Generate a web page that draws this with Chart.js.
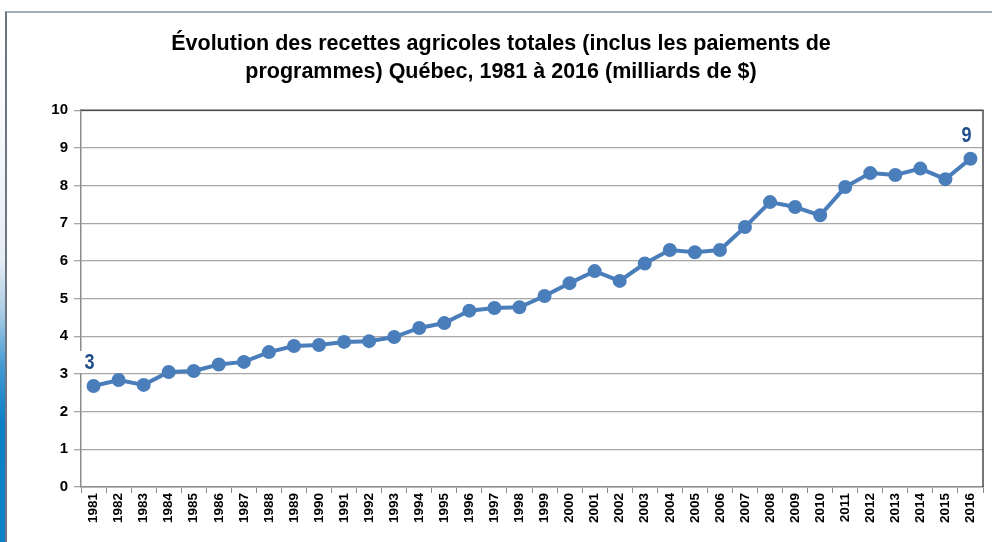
<!DOCTYPE html>
<html>
<head>
<meta charset="utf-8">
<script src="https://cdn.jsdelivr.net/npm/chart.js@4/dist/chart.umd.min.js"></script>
<style>
  html, body { margin: 0; padding: 0; background: #ffffff; }
  #strip { position: absolute; left: 0; top: 0; width: 6px; height: 542px;
    background: linear-gradient(to bottom, #ffffff 0%, #f3f6fa 30%, #e4ecf4 48%, #a9cbe4 58%, #3f97d2 68%, #0b7fc6 78%, #0a82c8 100%); }
  #frame { position: absolute; left: 5px; top: 11px; width: 987px; height: 531px;
    border-left: 2px solid #6c7682; border-top: 2px solid #a5adb6; box-sizing: border-box; background: #fff; }
  #wrap { position: absolute; left: 0; top: 0; width: 992px; height: 542px; }
</style>
</head>
<body>
<div id="strip"></div>
<div id="frame"></div>
<div id="wrap"><canvas id="c" width="992" height="542"></canvas></div>
<script>
const categories = ["1981","1982","1983","1984","1985","1986","1987","1988","1989","1990","1991","1992","1993","1994","1995","1996","1997","1998","1999","2000","2001","2002","2003","2004","2005","2006","2007","2008","2009","2010","2011","2012","2013","2014","2015","2016"];
const recettes = [2.68,2.84,2.71,3.05,3.08,3.25,3.32,3.58,3.74,3.77,3.85,3.87,3.98,4.22,4.35,4.68,4.75,4.77,5.07,5.41,5.73,5.47,5.93,6.29,6.23,6.29,6.90,7.56,7.43,7.21,7.96,8.33,8.28,8.45,8.17,8.71];
const labelledPoints = [0, 35];
const yTicks = [0,1,2,3,4,5,6,7,8,9,10];
const titleLines = ["Évolution des recettes agricoles totales (inclus les paiements de", "programmes) Québec, 1981 à 2016 (milliards de $)"];

const sans = "'Liberation Sans', Arial, sans-serif";
const lineColor = "#4a7ebb";

const plotBorder = {
  id: 'plotBorder',
  afterDraw(chart) {
    const a = chart.chartArea, ctx = chart.ctx;
    ctx.save();
    ctx.strokeStyle = '#4a4a4a';
    ctx.lineWidth = 1.5;
    ctx.beginPath();
    ctx.moveTo(a.left, a.top);
    ctx.lineTo(a.right, a.top);
    ctx.lineTo(a.right, a.bottom);
    ctx.stroke();
    ctx.restore();
  }
};

const pointLabels = {
  id: 'pointLabels',
  afterDatasetsDraw(chart) {
    const meta = chart.getDatasetMeta(0);
    const ctx = chart.ctx;
    labelledPoints.forEach(i => {
      const el = meta.data[i];
      const txt = String(Math.round(recettes[i]));
      const x = el.x - 4, y = el.y - 24;
      ctx.save();
      ctx.translate(x, y);
      ctx.fillStyle = '#ffffff';
      ctx.fillRect(-10, -11, 20, 22);
      ctx.scale(0.82, 1);
      ctx.font = "bold 22px " + sans;
      ctx.textAlign = 'center';
      ctx.textBaseline = 'middle';
      ctx.fillStyle = '#1f4e8c';
      ctx.fillText(txt, 0, 1);
      ctx.restore();
    });
  }
};

new Chart(document.getElementById('c'), {
  type: 'line',
  data: {
    labels: categories,
    datasets: [{
      data: recettes,
      borderColor: lineColor,
      backgroundColor: lineColor,
      borderWidth: 4,
      pointRadius: 5,
      pointHoverRadius: 5,
      pointBackgroundColor: lineColor,
      pointBorderColor: lineColor,
      tension: 0
    }]
  },
  options: {
    responsive: false,
    animation: false,
    devicePixelRatio: 1,
    layout: { padding: { left: 18, right: 8, top: 0, bottom: 0 } },
    plugins: {
      legend: { display: false },
      tooltip: { enabled: false },
      title: {
        display: true,
        text: titleLines,
        color: '#000000',
        font: { family: sans, size: 21.5, weight: 'bold', lineHeight: 1.26 },
        padding: { top: 31, bottom: 25 }
      }
    },
    scales: {
      x: {
        offset: true,
        grid: { display: true, drawOnChartArea: false, drawTicks: true, tickLength: 6, offset: true, color: '#8c8c8c' },
        border: { display: true, color: '#8c8c8c', width: 1.5 },
        ticks: {
          color: '#000000',
          font: { family: sans, size: 13.5, weight: 'bold' },
          minRotation: 90, maxRotation: 90, autoSkip: false, padding: 0
        },
        afterFit(scale) { scale.height = 55; }
      },
      y: {
        min: 0, max: 10,
        afterBuildTicks(scale) { scale.ticks = yTicks.map(v => ({ value: v })); },
        grid: { color: '#a6a6a6', lineWidth: 1.3, tickLength: 7, drawTicks: true },
        border: { display: true, color: '#8c8c8c', width: 1.5 },
        ticks: {
          color: '#000000',
          font: { family: sans, size: 15, weight: 'bold' },
          padding: 6
        },
        afterFit(scale) { scale.width = 63; }
      }
    }
  },
  plugins: [plotBorder, pointLabels]
});
</script>
</body>
</html>
